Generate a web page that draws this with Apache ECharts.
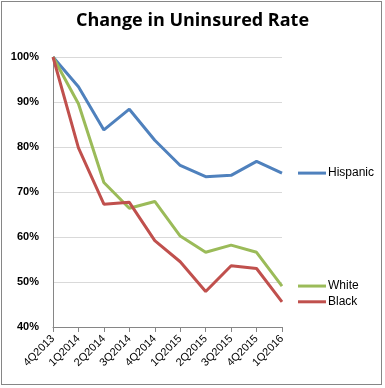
<!DOCTYPE html>
<html>
<head>
<meta charset="utf-8">
<script src="https://cdn.jsdelivr.net/npm/echarts@6/dist/echarts.min.js"></script>
<style>
html,body{margin:0;padding:0;background:#fff;}
#wrap{position:absolute;left:1px;top:1px;width:381px;height:384px;border:1px solid #868686;box-sizing:border-box;}
#chart{position:absolute;left:0;top:0;width:385px;height:388px;}
</style>
</head>
<body>
<div id="wrap"></div>
<div id="chart"></div>
<script>
const categories = ['4Q2013','1Q2014','2Q2014','3Q2014','4Q2014','1Q2015','2Q2015','3Q2015','4Q2015','1Q2016'];
const hispanic = [100, 93.4, 83.8, 88.4, 81.5, 75.9, 73.4, 73.7, 76.8, 74.2];
const white    = [100, 89.6, 72.1, 66.4, 67.9, 60.2, 56.6, 58.2, 56.6, 49.1];
const black    = [100, 79.8, 67.3, 67.7, 59.2, 54.5, 47.9, 53.6, 53.0, 45.6];
const yTicks = [40, 50, 60, 70, 80, 90, 100];

const chart = echarts.init(document.getElementById('chart'), null, {renderer:'canvas'});
const font = '"Liberation Sans", Arial, sans-serif';
function mk(name, data, color){
  return {
    name, type:'line', data, symbol:'none', smooth:false,
    lineStyle:{color, width:3}, itemStyle:{color},
    emphasis:{disabled:true},
    endLabel:{
      show:true, distance:16,
      formatter: p => '{ln|}{t|' + p.seriesName + '}',
      rich:{
        ln:{width:28, height:3, backgroundColor:color},
        t:{color:'#000', fontSize:12, fontFamily:font, padding:[0,0,0,2]}
      }
    }
  };
}
chart.setOption({
  animation:false,
  title:{
    text:'Change in Uninsured Rate', left:'center', top:7,
    textStyle:{fontSize:18, fontWeight:'bold', color:'#000', fontFamily:'"Open Sans", ' + font}
  },
  grid:{left:53, right:103, top:57, bottom:61, containLabel:false},
  xAxis:{
    type:'category', data:categories, boundaryGap:false,
    axisLine:{lineStyle:{color:'#868686', width:1}},
    axisTick:{show:true, length:5, lineStyle:{color:'#868686'}},
    axisLabel:{rotate:45, fontSize:11, color:'#000', fontFamily:font, margin:10},
    splitLine:{show:false}
  },
  yAxis:{
    type:'value', min:40, max:100, interval:10,
    axisLine:{show:true, lineStyle:{color:'#868686'}},
    axisTick:{show:false},
    axisLabel:{fontSize:11, fontWeight:'bold', color:'#000', fontFamily:font, margin:14,
      formatter: v => yTicks.includes(v) ? v + '%' : ''},
    splitLine:{lineStyle:{color:'#D9D9D9', width:1}}
  },
  series:[ mk('Hispanic', hispanic, '#4F81BD'), mk('White', white, '#9BBB59'), mk('Black', black, '#C0504D') ]
});
</script>
</body>
</html>
